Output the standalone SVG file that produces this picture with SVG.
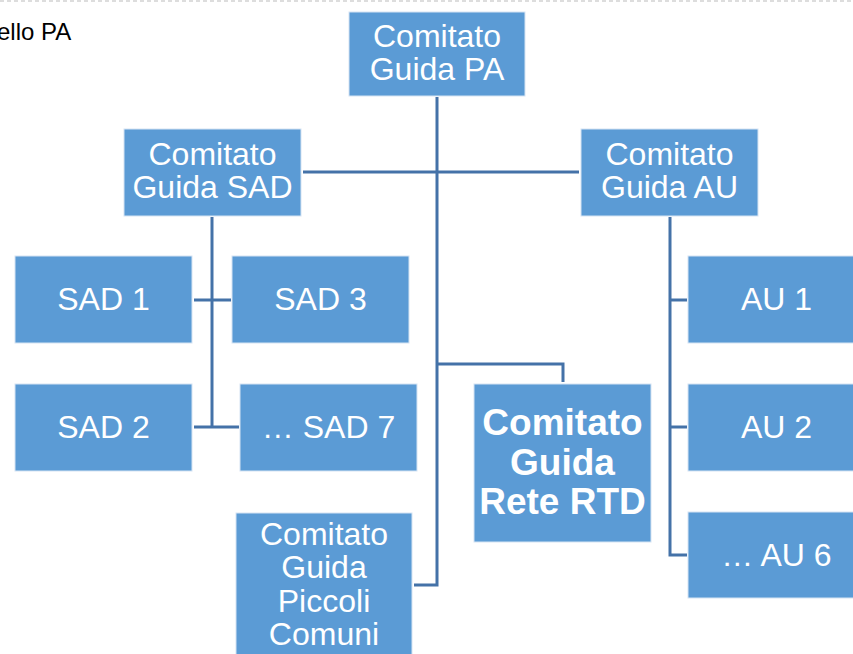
<svg xmlns="http://www.w3.org/2000/svg" width="853" height="654" viewBox="0 0 853 654">
<style>
.box{fill:#5B9BD5;stroke:#D6E4F3;stroke-width:1}
.t{font-family:"Liberation Sans",Arial,sans-serif;font-size:32px;fill:#fff;text-anchor:middle}
.b{font-weight:bold;font-size:37px}
.ln{fill:none;stroke:#4472A8;stroke-width:3}
</style>
<rect width="853" height="654" fill="#fff"/>
<line x1="0" y1="1" x2="853" y2="1" stroke="#BBBBBB" stroke-width="1" stroke-dasharray="4 3"/>
<text x="-3" y="40" font-family="Liberation Sans, Arial, sans-serif" font-size="24" fill="#000">ello PA</text>
<g id="connectors">
<path class="ln" d="M437 97 V585 H414"/>
<path class="ln" d="M303 172 H579"/>
<path class="ln" d="M437 364 H563 V382"/>
<path class="ln" d="M212 217 V427"/>
<path class="ln" d="M194 300 H231"/>
<path class="ln" d="M194 427 H239"/>
<path class="ln" d="M670 217 V555 H687"/>
<path class="ln" d="M670 300 H687"/>
<path class="ln" d="M670 427 H687"/>
</g>
<g id="pa"><rect class="box" x="349" y="12" width="176" height="84"/><text class="t" x="437" y="47">Comitato</text><text class="t" x="437" y="80">Guida PA</text></g>
<g id="sad"><rect class="box" x="124" y="129" width="177" height="87"/><text class="t" x="212.5" y="165">Comitato</text><text class="t" x="212.5" y="198">Guida SAD</text></g>
<g id="au"><rect class="box" x="581" y="129" width="177" height="87"/><text class="t" x="669.5" y="165">Comitato</text><text class="t" x="669.5" y="198">Guida AU</text></g>
<g id="sad1"><rect class="box" x="15" y="256" width="177" height="87"/><text class="t" x="103.5" y="310">SAD 1</text></g>
<g id="sad3"><rect class="box" x="232" y="256" width="177" height="87"/><text class="t" x="320.5" y="310">SAD 3</text></g>
<g id="sad2"><rect class="box" x="15" y="384" width="177" height="87"/><text class="t" x="103.5" y="438">SAD 2</text></g>
<g id="sad7"><rect class="box" x="240" y="384" width="177" height="87"/><text class="t" x="328.5" y="438">… SAD 7</text></g>
<g id="piccoli"><rect class="box" x="236" y="513" width="176" height="150"/><text class="t" x="324" y="545">Comitato</text><text class="t" x="324" y="578">Guida</text><text class="t" x="324" y="612">Piccoli</text><text class="t" x="324" y="645">Comuni</text></g>
<g id="rtd"><rect class="box" x="474" y="384" width="177" height="158"/><text class="t b" x="562.5" y="435">Comitato</text><text class="t b" x="562.5" y="475">Guida</text><text class="t b" x="562.5" y="514">Rete RTD</text></g>
<g id="au1"><rect class="box" x="688" y="256" width="177" height="87"/><text class="t" x="776.5" y="310">AU 1</text></g>
<g id="au2"><rect class="box" x="688" y="384" width="177" height="87"/><text class="t" x="776.5" y="438">AU 2</text></g>
<g id="au6"><rect class="box" x="688" y="512" width="177" height="86"/><text class="t" x="776.5" y="566">… AU 6</text></g>
</svg>
